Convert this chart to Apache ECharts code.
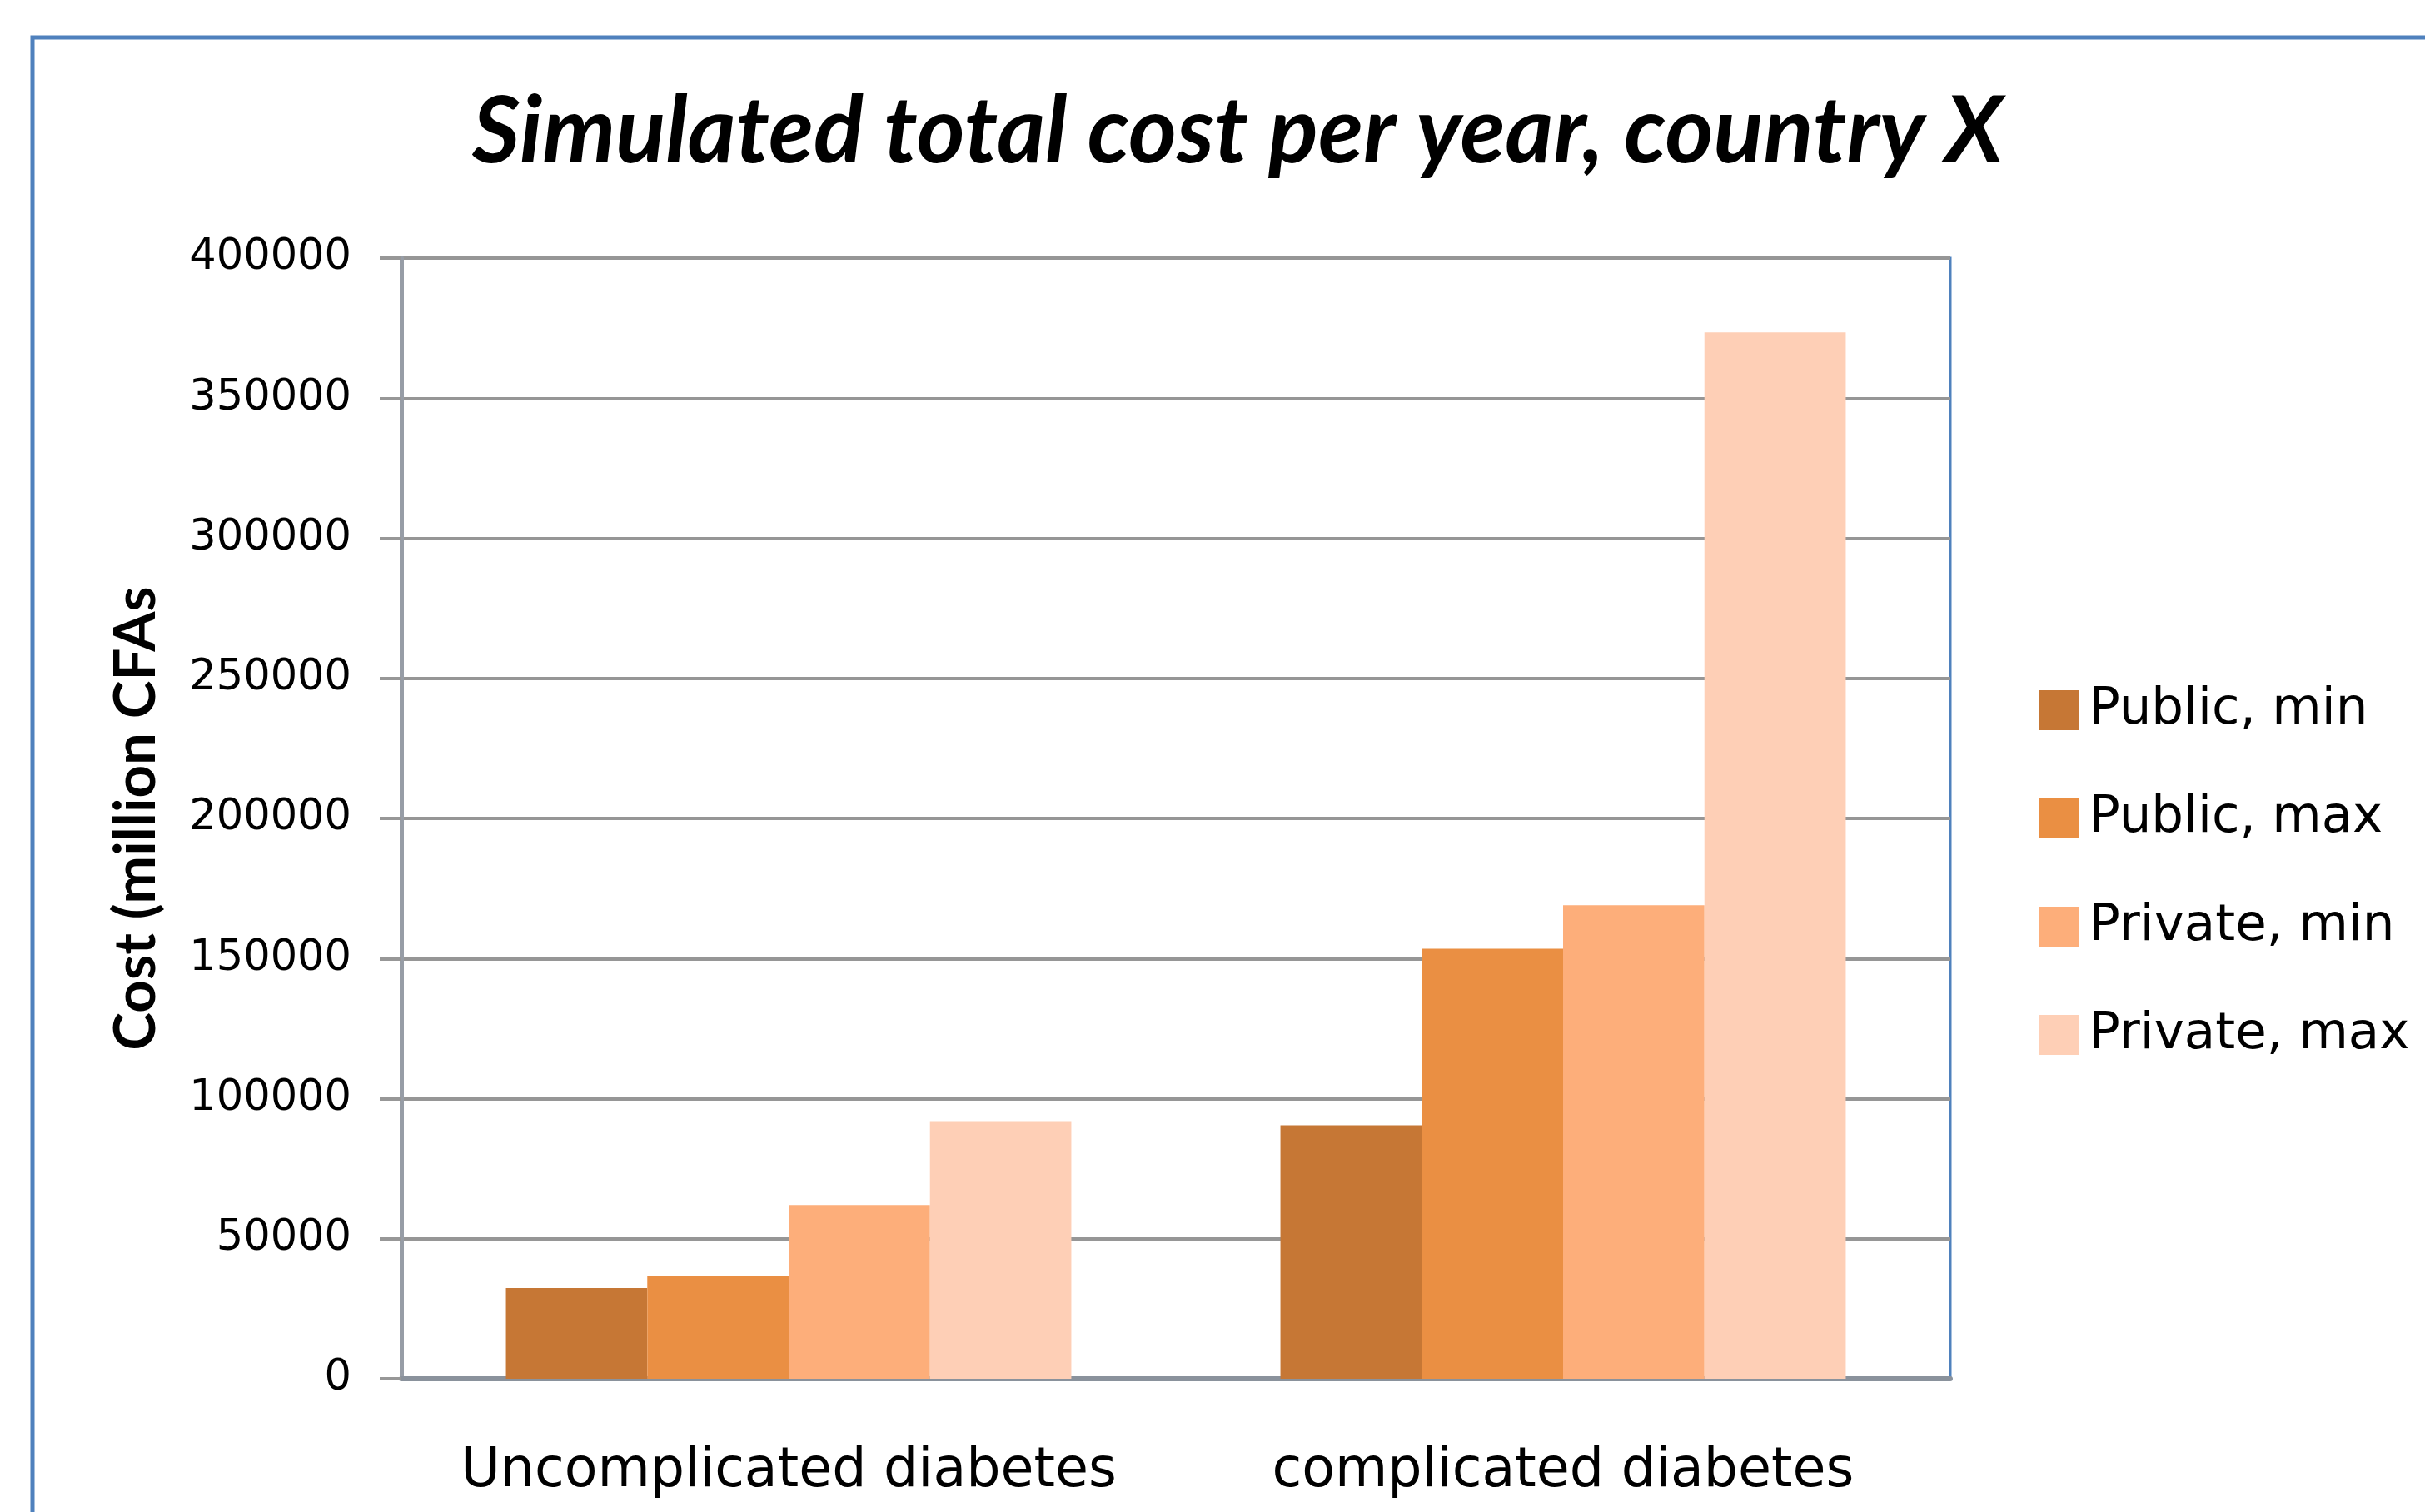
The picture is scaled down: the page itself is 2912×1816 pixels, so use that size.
<!DOCTYPE html>
<html>
<head>
<meta charset="utf-8">
<script src="https://cdn.jsdelivr.net/npm/echarts@6/dist/echarts.min.js"></script>
<style>
html,body{margin:0;padding:0;background:#fff;}
#chart{width:2912px;height:1816px;}
</style>
</head>
<body>
<div id="chart"></div>
<script>
const titleText = 'Simulated total cost per year, country X';
const yAxisName = 'Cost (million CFAs';
const categories = ['Uncomplicated diabetes', 'complicated diabetes'];
const seriesNames = ['Public, min', 'Public, max', 'Private, min', 'Private, max'];
const publicMin = [32400, 90500];
const publicMax = [36800, 153500];
const privateMin = [62000, 169000];
const privateMax = [92000, 373500];
const yTicks = [0, 50000, 100000, 150000, 200000, 250000, 300000, 350000, 400000];
const colors = ['#C67735', '#EA8F43', '#FDAE7A', '#FECFB6'];

const seriesValues = [publicMin, publicMax, privateMin, privateMax];

const chart = echarts.init(document.getElementById('chart'), null, {renderer: 'canvas'});
const option = {
  backgroundColor: '#ffffff',
  animation: false,
  color: colors,
  title: {
    text: titleText,
    left: 567,
    top: 104,
    padding: 0,
    textStyle: {
      fontFamily: 'Lato',
      fontStyle: 'italic',
      fontWeight: 'bold',
      fontSize: 111,
      color: '#000'
    }
  },
  legend: {
    orient: 'vertical',
    left: 2443,
    top: 813,
    itemWidth: 48,
    itemHeight: 48,
    itemGap: 60,
    icon: 'rect',
    data: seriesNames,
    textStyle: {
      fontFamily: 'DejaVu Sans',
      fontSize: 61,
      lineHeight: 70,
      color: '#000',
      padding: [0, 0, 0, 8]
    }
  },
  grid: {
    left: 482,
    top: 310,
    width: 1860,
    height: 1346,
    show: true,
    borderColor: '#4F81BD',
    borderWidth: 3,
    backgroundColor: 'transparent',
    containLabel: false
  },
  xAxis: {
    type: 'category',
    data: categories,
    axisLine: {show: true, lineStyle: {color: '#8A929C', width: 6}},
    axisTick: {show: false},
    axisLabel: {
      interval: 0,
      margin: 80,
      fontFamily: 'DejaVu Sans',
      fontSize: 65,
      color: '#000'
    },
    splitLine: {show: false}
  },
  yAxis: {
    type: 'value',
    min: yTicks[0],
    max: yTicks[yTicks.length - 1],
    interval: yTicks[1] - yTicks[0],
    name: yAxisName,
    nameLocation: 'middle',
    nameGap: 284,
    nameRotate: 90,
    nameTextStyle: {
      fontFamily: 'Lato',
      fontWeight: 'bold',
      fontSize: 69,
      color: '#000'
    },
    axisLine: {show: true, lineStyle: {color: '#979DA6', width: 5}},
    axisTick: {show: true, length: 26, lineStyle: {color: '#979797', width: 4}},
    axisLabel: {
      margin: 60,
      fontFamily: 'DejaVu Sans',
      fontSize: 51,
      color: '#000',
      formatter: function (v) { return String(v); }
    },
    splitLine: {show: true, lineStyle: {color: '#969696', width: 4}}
  },
  graphic: [{
    type: 'rect',
    shape: {x: 39, y: 45, width: 3200, height: 2200},
    style: {fill: 'none', stroke: '#4F81BD', lineWidth: 5},
    z: 100
  }],
  series: seriesNames.map((name, i) => ({
    name: name,
    type: 'bar',
    data: seriesValues[i],
    barGap: '0%',
    barCategoryGap: '27%',
    itemStyle: {color: colors[i]}
  }))
};
chart.setOption(option);
</script>
</body>
</html>
